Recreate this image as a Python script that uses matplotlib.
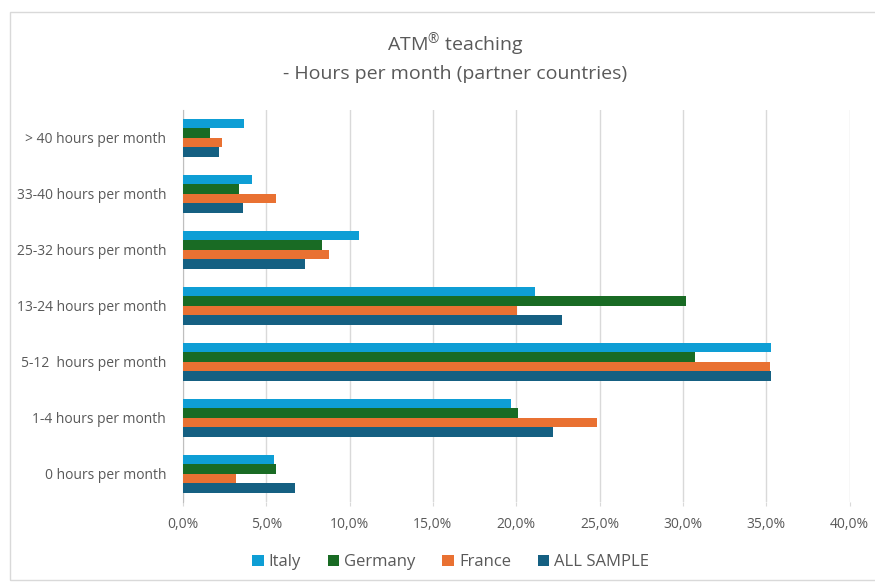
import numpy as np
import matplotlib.pyplot as plt
from matplotlib.patches import Rectangle
from matplotlib.ticker import FuncFormatter

plt.rcParams['font.family'] = ['Open Sans', 'DejaVu Sans']
plt.rcParams['mathtext.fontset'] = 'custom'
plt.rcParams['mathtext.rm'] = 'Open Sans'

categories = ['0 hours per month', '1-4 hours per month', '5-12  hours per month',
              '13-24 hours per month', '25-32 hours per month', '33-40 hours per month',
              '> 40 hours per month']
series = ['Italy', 'Germany', 'France', 'ALL SAMPLE']
italy = [5.46, 19.7, 35.3, 21.1, 10.54, 4.12, 3.64]
germany = [5.6, 20.1, 30.7, 30.17, 8.36, 3.34, 1.62]
france = [3.19, 24.85, 35.2, 20.03, 8.78, 5.56, 2.36]
all_sample = [6.73, 22.2, 35.3, 22.73, 7.32, 3.6, 2.16]
colors = ['#0E9ED5', '#196B24', '#E97132', '#156082']

fig = plt.figure(figsize=(8.75, 5.82), dpi=100)
ax = fig.add_axes([0.209, 0.1375, 0.762, 0.674])

y = np.arange(len(categories))
h = 0.17
offsets = [1.5, 0.5, -0.5, -1.5]
for vals, name, col, off in zip([italy, germany, france, all_sample], series, colors, offsets):
    ax.barh(y + off * h, vals, height=h, color=col, label=name, zorder=3)

ax.set_xlim(0, 40)
ax.set_ylim(-0.5, len(categories) - 0.5)
ax.set_xticks(np.arange(0, 41, 5))
ax.xaxis.set_major_formatter(FuncFormatter(lambda v, p: f'{v:.1f}%'.replace('.', ',')))
ax.set_yticks(y)
ax.set_yticklabels(categories)
ax.grid(axis='x', color='#D9D9D9', linewidth=1, zorder=0)
for s in ['top', 'right', 'bottom']:
    ax.spines[s].set_visible(False)
ax.spines['left'].set_color('#BFBFBF')
ax.tick_params(axis='y', length=0, labelsize=10, labelcolor='#595959', pad=12)
ax.tick_params(axis='x', length=3, color='#D9D9D9', labelsize=10, labelcolor='#595959', pad=8)

fig.text(0.52, 0.925, 'ATM' + r'$^{\circledR}$' + ' teaching', ha='center', va='center',
         fontsize=14, color='#595959')
fig.text(0.52, 0.872, '- Hours per month (partner countries)', ha='center', va='center',
         fontsize=14, color='#595959')

fig.legend(loc='center', bbox_to_anchor=(0.515, 0.034), ncol=4, frameon=False,
           fontsize=12, labelcolor='#595959', handlelength=0.7, handleheight=0.7,
           handletextpad=0.3, columnspacing=1.6)

fig.patches.append(Rectangle((10 / 875, 0.003), 1.2, 1 - 12 / 582 - 0.003,
                             transform=fig.transFigure, fill=False,
                             edgecolor='#D9D9D9', linewidth=1))

fig.savefig('out.png', dpi=100)
